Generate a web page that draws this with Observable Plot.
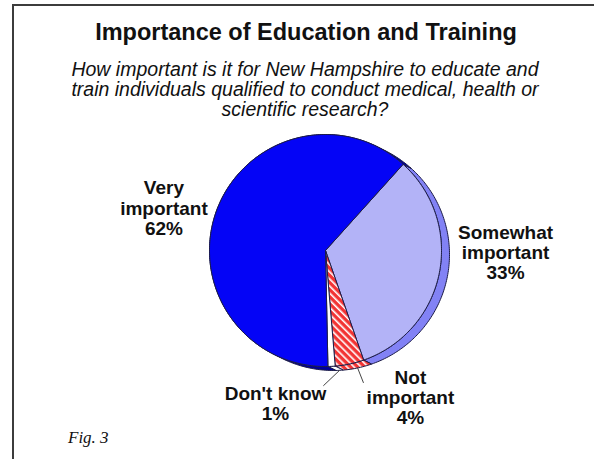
<!DOCTYPE html>
<html><head><meta charset="utf-8">
<script src="https://cdn.jsdelivr.net/npm/d3@7"></script>
<script src="https://cdn.jsdelivr.net/npm/@observablehq/plot@0.6"></script>
<style>
body{margin:0;background:#fff;}
#wrap{position:relative;width:594px;height:459px;overflow:hidden;font-family:"Liberation Sans",Arial,sans-serif;color:#111;}
#frame{position:absolute;left:12px;top:4px;right:-4px;bottom:-4px;border-left:2px solid #3c3c3c;border-top:2px solid #3c3c3c;}
#chart{position:absolute;left:0;top:0;}
#title{position:absolute;left:9px;width:594px;top:18px;text-align:center;font-weight:bold;font-size:23.5px;line-height:28px;}
#subtitle{position:absolute;left:8px;width:594px;top:59px;text-align:center;font-style:italic;font-size:19.5px;line-height:20px;}
#fig{position:absolute;left:68px;top:428px;font-family:"Liberation Serif","Times New Roman",serif;font-style:italic;font-size:17px;}
</style></head>
<body>
<div id="wrap">
  <div id="frame"></div>
  <div id="chart"></div>
  <div id="title">Importance of Education and Training</div>
  <div id="subtitle">How important is it for New Hampshire to educate and<br>train individuals qualified to conduct medical, health or<br>scientific research?</div>
  <div id="fig">Fig. 3</div>
</div>
<script>
// ---- data ----
const categories = ["Somewhat important", "Not important", "Don't know", "Very important"];
const labelWords = [["Somewhat", "important"], ["Not", "important"], ["Don't know"], ["Very", "important"]];
const values = [33, 4, 1, 62];

// ---- styles ----
const faceColors = ["#b3b3f7", "url(#hatch)", "#ffffff", "#0404f6"];
const sideColors = ["#8282f5", "url(#hatch)", "#ffffff", "#00009a"];
const outline = "#1c1c48";

// ---- layout ----
const W = 594, H = 459;
const cx = 325, cy = 250, R = 116;          // pie centre and radius in pixels
const startDeg = 42;                         // first slice starts at 42° clockwise from 12 o'clock
const depth = [8 / R, -4 / R];               // extrusion offset (unit radius)
const labelAngle = [90.6, 150.0, 198.1, 284.7];
const labelRadius = [1.552, 1.464, 1.388, 1.44];
const leaderSlices = [1, 2];
const leaderEndAngle = {1: 164, 2: 180.8};
const leaderEndRadius = {1: 1.184, 2: 1.164};

const rad = d => d * Math.PI / 180;
const arcs = d3.pie().sort(null).value(d => d)
  .startAngle(rad(startDeg)).endAngle(rad(startDeg) + 2 * Math.PI)(values);

function arcPts(a0, a1, ox = 0, oy = 0) {
  const n = Math.max(2, Math.ceil(Math.abs(a1 - a0) / rad(1)));
  return d3.range(n + 1).map(i => {
    const a = a0 + (a1 - a0) * i / n;
    return {x: ox + Math.sin(a), y: oy + Math.cos(a)};
  });
}
const faces = arcs.map(a => [{x: 0, y: 0}, ...arcPts(a.startAngle, a.endAngle), {x: 0, y: 0}]);
const sides = arcs.map(a => {
  const p = [...arcPts(a.startAngle, a.endAngle), ...arcPts(a.endAngle, a.startAngle, depth[0], depth[1])];
  return [...p, p[0]];
});

const labels = arcs.map((a, i) => {
  const t = rad(labelAngle[i]);
  return {x: labelRadius[i] * Math.sin(t), y: labelRadius[i] * Math.cos(t),
          text: [...labelWords[i], values[i] + "%"].join("\n")};
});
const leaders = leaderSlices.flatMap(i => {
  const m = (arcs[i].startAngle + arcs[i].endAngle) / 2;
  const t = rad(leaderEndAngle[i]);
  return [
    {k: i, x: 1.0 * Math.sin(m) + depth[0], y: 1.0 * Math.cos(m) + depth[1]},
    {k: i, x: leaderEndRadius[i] * Math.sin(t), y: leaderEndRadius[i] * Math.cos(t)}
  ];
});

const marks = [];
sides.forEach((pts, i) => marks.push(Plot.line(pts, {x: "x", y: "y", fill: sideColors[i], stroke: outline, strokeWidth: 1, curve: "linear"})));
faces.forEach((pts, i) => marks.push(Plot.line(pts, {x: "x", y: "y", fill: faceColors[i], stroke: outline, strokeWidth: 1, curve: "linear"})));
marks.push(Plot.line(leaders, {x: "x", y: "y", z: "k", stroke: "#444", strokeWidth: 1}));
marks.push(Plot.text(labels, {x: "x", y: "y", text: "text", fontSize: 19, fontWeight: "bold", lineHeight: 1.07,
  fill: "#111", fontFamily: "Liberation Sans, Arial, sans-serif", textAnchor: "middle"}));

const svg = Plot.plot({
  width: W, height: H,
  marginTop: 0, marginRight: 0, marginBottom: 0, marginLeft: 0,
  x: {domain: [-cx / R, (W - cx) / R], range: [0, W], axis: null},
  y: {domain: [-(H - cy) / R, cy / R], range: [H, 0], axis: null},
  style: {background: "transparent", overflow: "visible"},
  marks
});

const defs = d3.select(svg).insert("defs", ":first-child");
const pat = defs.append("pattern").attr("id", "hatch").attr("patternUnits", "userSpaceOnUse")
  .attr("width", 5).attr("height", 5).attr("patternTransform", "rotate(-45)");
pat.append("rect").attr("width", 5).attr("height", 5).attr("fill", "#f23434");
pat.append("rect").attr("x", 0).attr("width", 1.6).attr("height", 5).attr("fill", "#ffffff");

document.getElementById("chart").appendChild(svg);
</script>
</body></html>
